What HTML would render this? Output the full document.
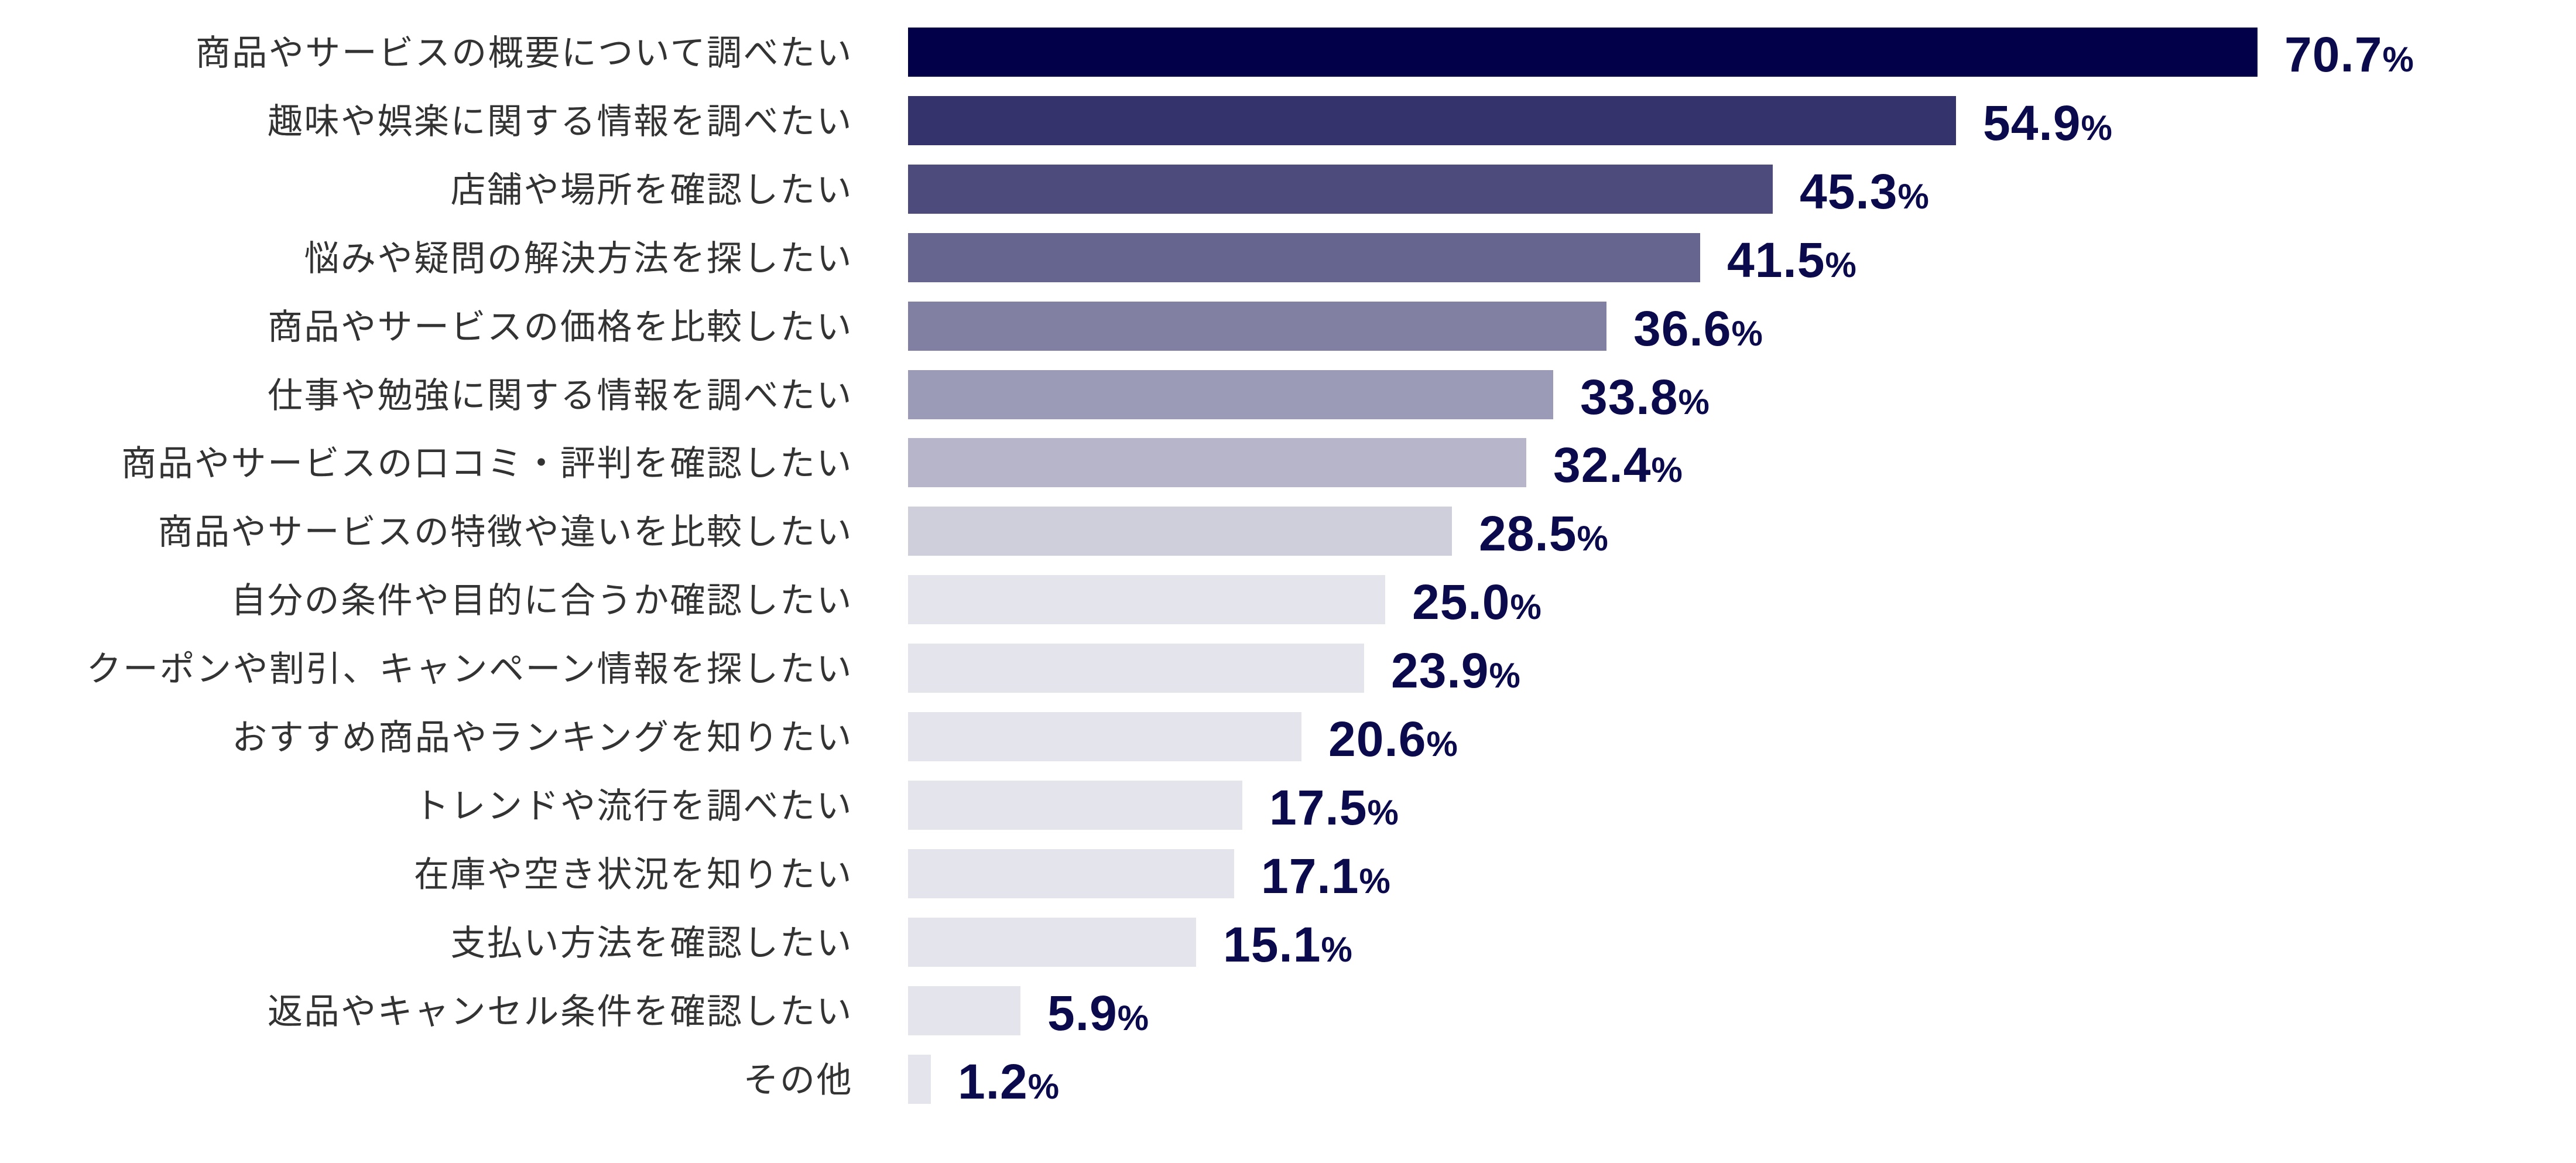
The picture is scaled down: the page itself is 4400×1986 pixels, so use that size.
<!DOCTYPE html>
<html><head><meta charset="utf-8"><style>
html,body{margin:0;padding:0;background:#fff;}
body{width:4400px;height:1986px;position:relative;overflow:hidden;}
.l{position:absolute;right:2943px;font-family:"Liberation Sans","Noto Sans CJK JP",sans-serif;font-size:60px;letter-spacing:2.5px;color:#333;white-space:nowrap;line-height:84px;height:84px;}
.b{position:absolute;left:1551px;height:84px;}
.v{position:absolute;font-family:"Liberation Sans",sans-serif;font-weight:bold;font-size:84px;color:#0b0a4c;line-height:84px;height:84px;white-space:nowrap;letter-spacing:1px;}
.v span{font-size:60px;}
</style></head><body>
<div id="c"></div>
<script>
var d=[["商品やサービスの概要について調べたい",70.7,"#020049"],
["趣味や娯楽に関する情報を調べたい",54.9,"#35336b"],
["店舗や場所を確認したい",45.3,"#4d4b7b"],
["悩みや疑問の解決方法を探したい",41.5,"#666590"],
["商品やサービスの価格を比較したい",36.6,"#8180a3"],
["仕事や勉強に関する情報を調べたい",33.8,"#9b9ab7"],
["商品やサービスの口コミ・評判を確認したい",32.4,"#b6b5ca"],
["商品やサービスの特徴や違いを比較したい",28.5,"#cfcfdc"],
["自分の条件や目的に合うか確認したい",25.0,"#e4e4ec"],
["クーポンや割引、キャンペーン情報を探したい",23.9,"#e4e4ec"],
["おすすめ商品やランキングを知りたい",20.6,"#e4e4ec"],
["トレンドや流行を調べたい",17.5,"#e4e4ec"],
["在庫や空き状況を知りたい",17.1,"#e4e4ec"],
["支払い方法を確認したい",15.1,"#e4e4ec"],
["返品やキャンセル条件を確認したい",5.9,"#e4e4ec"],
["その他",1.2,"#e4e4ec"]];
var h="";
d.forEach(function(r,i){var y=Math.round(47+i*116.9);var w=Math.round(r[1]*32.6);
h+='<div class="l" style="top:'+(y+2)+'px">'+r[0]+'</div>';
h+='<div class="b" style="top:'+y+'px;width:'+w+'px;background:'+r[2]+'"></div>';
h+='<div class="v" style="top:'+(y+4)+'px;left:'+(1551+w+46)+'px">'+r[1].toFixed(1)+'<span>%</span></div>';});
document.getElementById("c").innerHTML=h;
</script>
</body></html>
